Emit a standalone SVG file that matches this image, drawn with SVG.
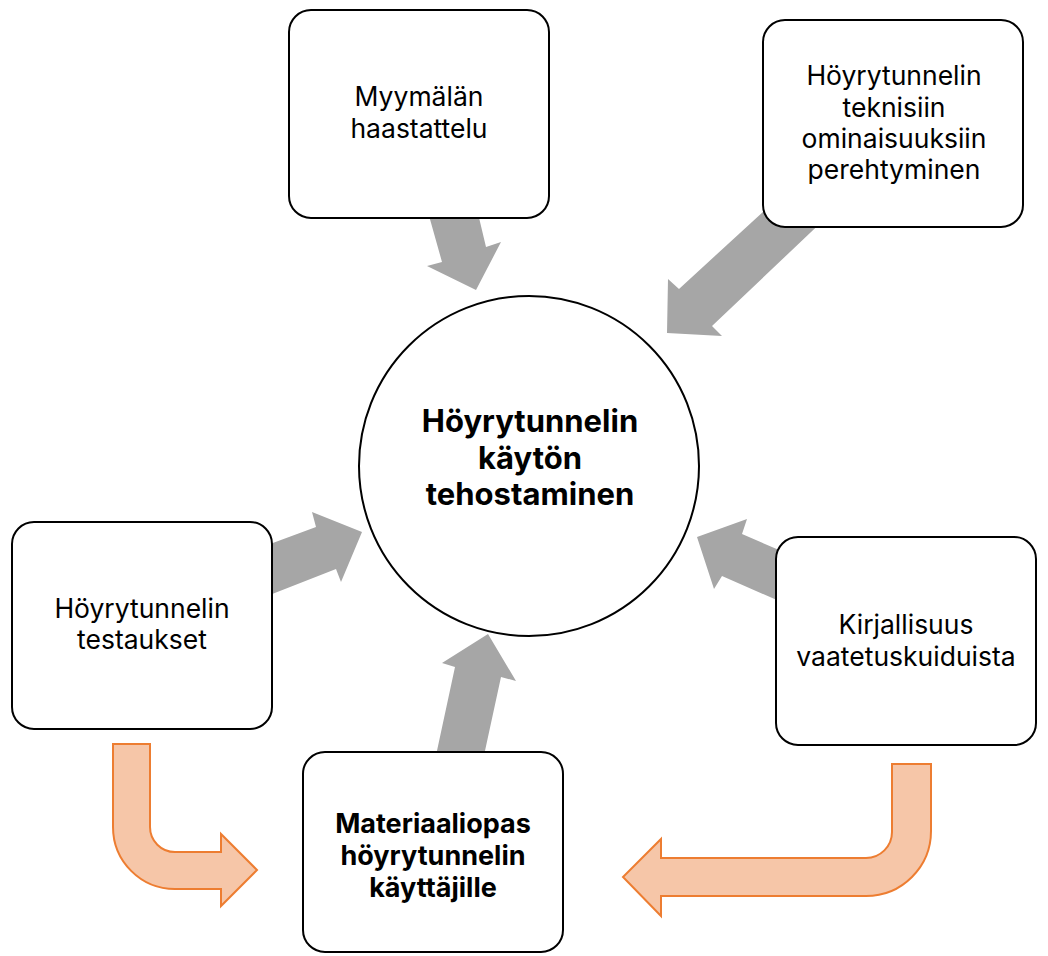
<svg xmlns="http://www.w3.org/2000/svg" width="1048" height="956" viewBox="0 0 1048 956">
<style>
.box{fill:#fff;stroke:#000;stroke-width:2}
.g{fill:#A6A6A6;stroke:none}
.o{fill:#F6C6A8;stroke:#ED7D31;stroke-width:2;stroke-linejoin:miter}
.t{font-family:Inter,"Liberation Sans",sans-serif;font-size:26.5px;fill:#000;text-anchor:middle}
.b{font-weight:bold;font-size:27px}
.c{font-weight:bold;font-size:31px}
</style>
<rect width="1048" height="956" fill="#fff"/>
<g id="connectors">
<polygon class="g" points="426,205 476,205 486,247 501,242 476,290 427,266 442,262"/>
<polygon class="g" points="790,187 830,214 712,326 722,336 667,333 668,279 679,289"/>
<polygon class="g" points="262,547 316,527 312,512 362,532 341,582 336,569 262,598"/>
<polygon class="g" points="697,537 747,519 742,534 786,553 786,604 722,576 714,589"/>
<polygon class="g" points="488,634 516,681 501,677 483,760 435,760 455,667 442,663"/>
<path class="o" d="M113,744 H150 V827 A25,25 0 0 0 175,852 H221 V834 L257,870 L221,906 V889 H175 A62,62 0 0 1 113,827 Z"/>
<path class="o" d="M892,764 H931 V831 A65,65 0 0 1 866,896 H661 V916 L623,877 L661,839 V858 H866 A26,26 0 0 0 892,832 Z"/>
</g>
<g id="center">
<circle cx="529" cy="466" r="170" fill="#fff" stroke="#000" stroke-width="2"/>
<text class="t c" x="530" y="432">Höyrytunnelin</text>
<text class="t c" x="530" y="469">käytön</text>
<text class="t c" x="530" y="505">tehostaminen</text>
</g>
<g id="n1">
<rect class="box" x="289" y="10" width="260" height="208" rx="22"/>
<text class="t" x="419" y="106">Myymälän</text>
<text class="t" x="419" y="138">haastattelu</text>
</g>
<g id="n2">
<rect class="box" x="763" y="20" width="260" height="207" rx="22"/>
<text class="t" x="894" y="85">Höyrytunnelin</text>
<text class="t" x="894" y="117">teknisiin</text>
<text class="t" x="894" y="148">ominaisuuksiin</text>
<text class="t" x="894" y="179">perehtyminen</text>
</g>
<g id="n3">
<rect class="box" x="12" y="522" width="260" height="207" rx="22"/>
<text class="t" x="142" y="618">Höyrytunnelin</text>
<text class="t" x="142" y="649">testaukset</text>
</g>
<g id="n4">
<rect class="box" x="776" y="537" width="260" height="208" rx="22"/>
<text class="t" x="906" y="634">Kirjallisuus</text>
<text class="t" x="906" y="666">vaatetuskuiduista</text>
</g>
<g id="n5">
<rect class="box" x="303" y="752" width="260" height="200" rx="22"/>
<text class="t b" x="433" y="833">Materiaaliopas</text>
<text class="t b" x="433" y="865">höyrytunnelin</text>
<text class="t b" x="433" y="897">käyttäjille</text>
</g>
</svg>
